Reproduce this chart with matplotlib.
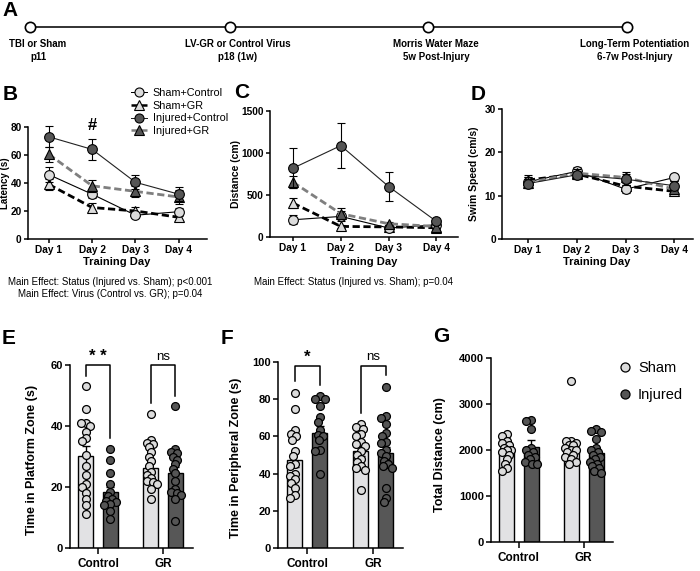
import numpy as np
import matplotlib
matplotlib.use("Agg")
import matplotlib.pyplot as plt
from matplotlib.lines import Line2D

plt.rcParams['font.family'] = ['Liberation Sans', 'DejaVu Sans']
plt.rcParams['axes.linewidth'] = 1.1

# ---------------- data ----------------
timeline_labels = ["TBI or Sham\np11", "LV-GR or Control Virus\np18 (1w)",
                   "Morris Water Maze\n5w Post-Injury",
                   "Long-Term Potentiation\n6-7w Post-Injury"]
days = ["Day 1", "Day 2", "Day 3", "Day 4"]
line_groups = ["Sham+Control", "Sham+GR", "Injured+Control", "Injured+GR"]

# B: latency (s)
lat_sham_ctrl = [46, 32, 17, 19.5]
lat_sham_ctrl_sem = [5.5, 3, 2, 3]
lat_sham_gr = [39, 22.5, 20, 15.5]
lat_sham_gr_sem = [4, 3, 3, 2]
lat_inj_ctrl = [73, 64, 40.5, 32]
lat_inj_ctrl_sem = [7.5, 7.5, 5, 5]
lat_inj_gr = [60.5, 38, 34, 30]
lat_inj_gr_sem = [5.5, 4.5, 4, 5]

# C: distance (cm)
dist_sham_ctrl = [205, 245, 107, 145]
dist_sham_ctrl_sem = [55, 60, 15, 15]
dist_sham_gr = [404, 126, 120, 110]
dist_sham_gr_sem = [60, 20, 15, 12]
dist_inj_ctrl = [819, 1088, 601, 185]
dist_inj_ctrl_sem = [235, 270, 178, 22]
dist_inj_gr = [653, 277, 158, 125]
dist_inj_gr_sem = [75, 67, 22, 15]

# D: swim speed (cm/s)
spd_sham_ctrl = [13.2, 15.6, 11.5, 14.2]
spd_sham_ctrl_sem = [1.0, 1.0, 0.9, 0.7]
spd_sham_gr = [13.6, 15.0, 12.2, 11.0]
spd_sham_gr_sem = [1.2, 0.9, 1.0, 0.8]
spd_inj_ctrl = [12.8, 14.8, 13.8, 12.3]
spd_inj_ctrl_sem = [1.0, 0.9, 1.3, 1.0]
spd_inj_gr = [13.0, 15.2, 14.2, 11.5]
spd_inj_gr_sem = [1.2, 1.0, 1.2, 1.0]

# E/F/G: probe
virus_groups = ["Control", "GR"]
status_groups = ["Sham", "Injured"]

plat_sham_ctrl = [53, 45.5, 41, 41, 40, 38, 36, 35, 30.5, 27, 24, 21, 20, 18, 16, 14, 11]
plat_inj_ctrl = [32.5, 29, 24.5, 21, 18.5, 17, 16, 15.5, 15, 14.5, 14, 12, 9.5]
plat_sham_gr = [44, 35.5, 34.5, 34, 33, 31.5, 30, 28.5, 27, 25, 24, 23, 22, 21.5, 21, 19.5, 16]
plat_inj_gr = [46.5, 32.5, 31.5, 31, 30, 29, 27.5, 26, 24.5, 22, 19.5, 18.5, 18, 17.5, 16, 9]
plat_means = [[30.3, 18.2], [26.3, 24.5]]
plat_sems = [[3.0, 1.8], [1.8, 2.2]]

peri_sham_ctrl = [83.5, 74.5, 63.5, 61.5, 60, 58, 52, 49.5, 45, 44, 40, 38.5, 37, 35, 32, 28.5, 27]
peri_inj_ctrl = [81.5, 80, 80, 76.5, 70.5, 68, 63.5, 61, 60, 58, 52.5, 52, 40]
peri_sham_gr = [66.5, 65, 64, 61.5, 60, 57, 56, 55, 52, 50, 48, 46, 44, 43, 42, 31]
peri_inj_gr = [86.5, 71, 70, 66.5, 62, 60, 57, 56.5, 52.5, 51, 49.5, 47, 45, 44, 43, 32.5, 27, 24.5]
peri_means = [[47.5, 62.0], [52.0, 51.0]]
peri_sems = [[4.0, 3.5], [2.5, 3.5]]

tot_sham_ctrl = [2350, 2300, 2200, 2150, 2100, 2050, 2000, 2000, 1950, 1900, 1800, 1700, 1600, 1550]
tot_inj_ctrl = [2650, 2620, 2450, 2050, 2000, 1950, 1900, 1850, 1800, 1750, 1700, 1700]
tot_sham_gr = [3500, 2200, 2200, 2150, 2100, 2100, 2050, 2000, 2000, 1950, 1900, 1850, 1800, 1750, 1700]
tot_inj_gr = [2450, 2420, 2400, 2250, 2050, 2000, 1950, 1900, 1850, 1800, 1750, 1700, 1650, 1600, 1550, 1500]
tot_means = [[2010, 2070], [2040, 1925]]
tot_sems = [[70, 140], [100, 80]]

# ---------------- style ----------------
W, H = 700, 571
LIGHT = '#dcdcdc'
DARK = '#555555'
BAR_LIGHT = '#e2e2e4'
BAR_DARK = '#575757'
NARROW = ['Liberation Sans Narrow', 'Liberation Sans', 'DejaVu Sans']

fig = plt.figure(figsize=(7, 5.71), dpi=100)


def ax_at(l, t, r, b):
    return fig.add_axes([l / W, 1 - b / H, (r - l) / W, (b - t) / H])


def ftext(x, y, s, **kw):
    kw.setdefault('ha', 'center')
    kw.setdefault('va', 'center')
    return fig.text(x / W, 1 - y / H, s, **kw)


def style_axis(ax, fs, tl=3.5):
    for sp in ['top', 'right']:
        ax.spines[sp].set_visible(False)
    ax.tick_params(direction='out', length=tl, width=1.1, labelsize=fs, pad=1.5)
    for lab in ax.get_xticklabels() + ax.get_yticklabels():
        lab.set_fontweight('bold')


# ---------------- A: timeline ----------------
axA = fig.add_axes([0, 0, 1, 1])
axA.set_xlim(0, W)
axA.set_ylim(H, 0)
axA.axis('off')
tl_x = [30, 230, 428, 627]
axA.plot([tl_x[0], tl_x[-1]], [27, 27], color='#222222', lw=1.3, zorder=1)
axA.scatter(tl_x, [27] * 4, s=55, facecolor='white', edgecolor='black', lw=1.2, zorder=2)
for x, lab in zip(tl_x, timeline_labels):
    l1, l2 = lab.split('\n')
    axA.text(x + 8, 44, l1, ha='center', va='center', fontsize=7, fontweight='bold', family=NARROW)
    axA.text(x + 8, 56.5, l2, ha='center', va='center', fontsize=7, fontweight='bold', family=NARROW)

# ---------------- line panels ----------------
series_styles = [
    dict(marker='o', mfc=LIGHT, color='black', ls='-', lw=0.8, z=4),
    dict(marker='^', mfc=LIGHT, color='black', ls=(0, (2.6, 1.3)), lw=2.0, z=3),
    dict(marker='o', mfc=DARK, color='#222222', ls='-', lw=0.8, z=6),
    dict(marker='^', mfc=DARK, color='#7f7f7f', ls=(0, (2.6, 1.3)), lw=2.0, z=5),
]


def line_panel(ax, series, sems, ylim, yticks, xlim, fs=7.3):
    x = np.arange(1, len(days) + 1)
    for vals, err, st in zip(series, sems, series_styles):
        ax.errorbar(x, vals, yerr=err, fmt='none', ecolor='black', elinewidth=0.8,
                    capsize=3, capthick=0.8, zorder=st['z'] - 0.5, clip_on=False)
        ax.plot(x, vals, color=st['color'], ls=st['ls'], lw=st['lw'], marker=st['marker'],
                ms=7 if st['marker'] == 'o' else 7.5, mfc=st['mfc'], mec='black', mew=0.8,
                zorder=st['z'], clip_on=False)
    ax.set_xlim(*xlim)
    ax.set_ylim(*ylim)
    ax.set_xticks(x)
    ax.set_xticklabels(days)
    ax.set_yticks(yticks)
    style_axis(ax, fs, tl=3)


axB = ax_at(28, 127, 207, 239)
line_panel(axB, [lat_sham_ctrl, lat_sham_gr, lat_inj_ctrl, lat_inj_gr],
           [lat_sham_ctrl_sem, lat_sham_gr_sem, lat_inj_ctrl_sem, lat_inj_gr_sem],
           (0, 80), [0, 20, 40, 60, 80], (0.52, 4.65))
axC = ax_at(270, 111, 458, 237)
line_panel(axC, [dist_sham_ctrl, dist_sham_gr, dist_inj_ctrl, dist_inj_gr],
           [dist_sham_ctrl_sem, dist_sham_gr_sem, dist_inj_ctrl_sem, dist_inj_gr_sem],
           (0, 1500), [0, 500, 1000, 1500], (0.52, 4.45))
axD = ax_at(502, 109, 693, 239)
line_panel(axD, [spd_sham_ctrl, spd_sham_gr, spd_inj_ctrl, spd_inj_gr],
           [spd_sham_ctrl_sem, spd_sham_gr_sem, spd_inj_ctrl_sem, spd_inj_gr_sem],
           (0, 30), [0, 10, 20, 30], (0.47, 4.38))

for cx in [117, 364, 597]:
    ftext(cx, 262, "Training Day", fontsize=8, fontweight='bold')
ftext(5, 183, "Latency (s)", rotation=90, fontsize=7, fontweight='bold')
ftext(236, 174, "Distance (cm)", rotation=90, fontsize=7.5, fontweight='bold')
ftext(474, 174, "Swim Speed (cm/s)", rotation=90, fontsize=7.5, fontweight='bold')

axB.text(2, 75.5, "#", ha='center', va='bottom', fontsize=12, fontweight='bold')

handles = [Line2D([0], [0], color=st['color'], ls=st['ls'], lw=st['lw'] * 0.9, marker=st['marker'],
                  ms=6.5, mfc=st['mfc'], mec='black', mew=0.8) for st in series_styles]
fig.legend(handles, line_groups, loc='upper left', bbox_to_anchor=(131 / W, 1 - 88 / H),
           frameon=False, fontsize=7.8, handlelength=1.5, handletextpad=0.5,
           labelspacing=0.25, borderpad=0, borderaxespad=0)

ftext(110, 282, "Main Effect: Status (Injured vs. Sham); p<0.001", fontsize=7, family=NARROW)
ftext(110, 294, "Main Effect: Virus (Control vs. GR); p=0.04", fontsize=7, family=NARROW)
ftext(353, 282, "Main Effect: Status (Injured vs. Sham); p=0.04", fontsize=7, family=NARROW)


# ---------------- bar panels ----------------
def swarm_x(ax, xc, vals, diam_px, maxw_px=6.0, overlap=0.62):
    vals = np.asarray(vals, float)
    pts = ax.transData.transform(np.column_stack([np.full(len(vals), xc), vals]))
    order = np.argsort(-vals)
    placed = []
    xs = np.zeros(len(vals))
    d = diam_px * overlap
    cands = np.linspace(-maxw_px, maxw_px, 13)
    cands = cands[np.argsort(np.abs(cands), kind='stable')]
    for i in order:
        x0, y0 = pts[i]
        best = None
        bestscore = -1
        for c in cands:
            xo = x0 + c
            md = min([np.hypot(xo - px, y0 - py) for px, py in placed] + [1e9])
            if md >= d:
                best = xo
                break
            if md > bestscore + 0.5:
                bestscore = md
                best = xo
        placed.append((best, y0))
        xs[i] = best
    back = ax.transData.inverted().transform(np.column_stack([xs, pts[:, 1]]))
    return back[:, 0]


OFF = 0.19
BW = 0.23


def bar_panel(ax, pts, means, sems, ylim, yticks, xlim):
    ax.set_xlim(*xlim)
    ax.set_ylim(*ylim)
    ax.set_yticks(yticks)
    ax.set_xticks([0, 1])
    ax.set_xticklabels(virus_groups)
    style_axis(ax, 8)
    for lab in ax.get_xticklabels():
        lab.set_fontsize(8.5)
    ax.tick_params(axis='x', length=4, pad=3)
    for gi in range(2):
        for si in range(2):
            xc = gi + (-OFF if si == 0 else OFF)
            ax.bar(xc, means[gi][si], width=BW, color=BAR_LIGHT if si == 0 else BAR_DARK,
                   edgecolor='black', lw=1.0, zorder=2)
            ax.errorbar(xc, means[gi][si], yerr=sems[gi][si], fmt='none', ecolor='black',
                        elinewidth=1.0, capsize=3, capthick=1.0, zorder=3)
            vals = pts[gi][si]
            xs = swarm_x(ax, xc, vals, 8.0)
            ax.scatter(xs, vals, s=32, facecolor=LIGHT if si == 0 else DARK,
                       edgecolor='black', lw=0.9, zorder=4, clip_on=False)


def bracket(ax, gi, ytop, yl, yr, label, fs, weight='normal', dy=0):
    x1, x2 = gi - OFF, gi + OFF
    ax.plot([x1, x1, x2, x2], [yl, ytop, ytop, yr], color='black', lw=1.1, clip_on=False, zorder=5)
    ax.text(gi, ytop + dy, label, ha='center', va='bottom', fontsize=fs, fontweight=weight)


axE = ax_at(70, 365, 193, 548)
bar_panel(axE, [[plat_sham_ctrl, plat_inj_ctrl], [plat_sham_gr, plat_inj_gr]],
          plat_means, plat_sems, (0, 60), [0, 20, 40, 60], (-0.43, 1.46))
bracket(axE, 0, 60, 56.5, 36, "* *", 12, 'bold', 0.3)
bracket(axE, 1, 60, 47.5, 50, "ns", 9.5, 'normal', 0.8)

axF = ax_at(278, 362, 403, 548)
bar_panel(axF, [[peri_sham_ctrl, peri_inj_ctrl], [peri_sham_gr, peri_inj_gr]],
          peri_means, peri_sems, (0, 100), [0, 20, 40, 60, 80, 100], (-0.44, 1.45))
bracket(axF, 0, 98, 90, 87.5, "*", 12, 'bold', 0.3)
bracket(axF, 1, 98, 72.5, 93, "ns", 9.5, 'normal', 1.5)

axG = ax_at(491, 358, 613, 542)
bar_panel(axG, [[tot_sham_ctrl, tot_inj_ctrl], [tot_sham_gr, tot_inj_gr]],
          tot_means, tot_sems, (0, 4000), [0, 1000, 2000, 3000, 4000], (-0.43, 1.45))

ftext(32, 460, "Time in Platform Zone (s)", rotation=90, fontsize=9, fontweight='bold')
ftext(236, 458, "Time in Peripheral Zone (s)", rotation=90, fontsize=9, fontweight='bold')
ftext(440, 455, "Total Distance (cm)", rotation=90, fontsize=9, fontweight='bold')

ghandles = [Line2D([0], [0], ls='none', marker='o', ms=6.5, mfc=c, mec='black', mew=0.9)
            for c in [LIGHT, DARK]]
fig.legend(ghandles, status_groups, loc='upper left', bbox_to_anchor=(619 / W, 1 - 361 / H),
           frameon=False, fontsize=10.5, handlelength=0.8, handletextpad=0.5,
           labelspacing=0.9, borderpad=0, borderaxespad=0)

# ---------------- panel letters ----------------
for lab, x, y in [("A", 10, 11), ("B", 10, 95), ("C", 242, 93), ("D", 478, 95),
                  ("E", 9, 338), ("F", 227, 338), ("G", 441, 337)]:
    ftext(x, y, lab, fontsize=15, fontweight='bold')

fig.savefig("out.png", dpi=100)
